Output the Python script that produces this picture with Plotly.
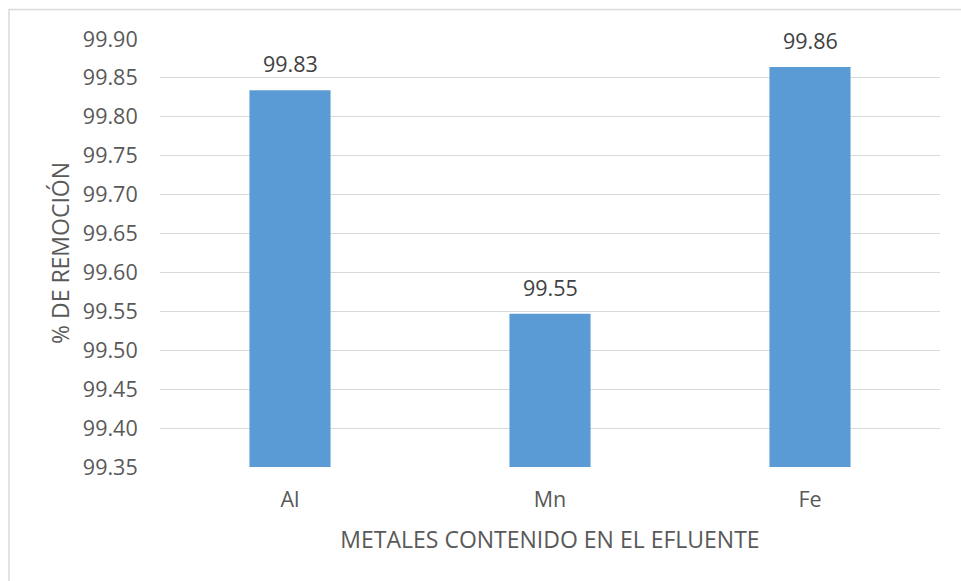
import plotly.graph_objects as go

categories = ["Al", "Mn", "Fe"]
values = [99.834, 99.547, 99.864]
labels = ["99.83", "99.55", "99.86"]
y_ticks = [99.35, 99.40, 99.45, 99.50, 99.55, 99.60, 99.65, 99.70, 99.75, 99.80, 99.85, 99.90]

FONT = "Open Sans"
TXT = "#595959"
TICK_SIZE = 21.5
TITLE_SIZE = 23

fig = go.Figure()
fig.add_trace(go.Bar(
    x=categories, y=values,
    marker=dict(color="#5b9bd5", line=dict(width=0)),
    hoverinfo="skip",
))

for c, v, t in zip(categories, values, labels):
    fig.add_annotation(x=c, y=v, text=t, showarrow=False, yanchor="bottom",
                       yshift=10, font=dict(family=FONT, size=TICK_SIZE, color="#404040"))

fig.update_layout(
    width=961, height=581,
    margin=dict(l=160, r=21, t=39, b=114),
    paper_bgcolor="white", plot_bgcolor="white",
    bargap=0.688,
    showlegend=False,
    font=dict(family=FONT, size=TICK_SIZE, color=TXT),
    xaxis=dict(
        showgrid=False, showline=False, zeroline=False,
        ticks="outside", ticklen=13, tickcolor="rgba(0,0,0,0)",
        tickfont=dict(family=FONT, size=TICK_SIZE, color=TXT),
        title=dict(text="METALES CONTENIDO EN EL EFLUENTE", standoff=20,
                   font=dict(family=FONT, size=TITLE_SIZE, color=TXT)),
    ),
    yaxis=dict(
        range=[99.35, 99.90],
        tickvals=y_ticks,
        ticktext=[f"{v:.2f}" for v in y_ticks],
        showgrid=True, gridcolor="#d9d9d9", gridwidth=1,
        zeroline=False, showline=False,
        ticks="outside", ticklen=17, tickcolor="rgba(0,0,0,0)",
        tickfont=dict(family=FONT, size=TICK_SIZE, color=TXT),
        title=dict(text="% DE REMOCIÓN", standoff=6,
                   font=dict(family=FONT, size=TITLE_SIZE, color=TXT)),
    ),
    shapes=[dict(type="rect", xref="paper", yref="paper",
                 x0=-0.1936, x1=1.2, y0=-0.5, y1=1.0689,
                 line=dict(color="#d9d9d9", width=1.5), fillcolor="rgba(0,0,0,0)",
                 layer="below")],
)

fig.write_html("out.html")
